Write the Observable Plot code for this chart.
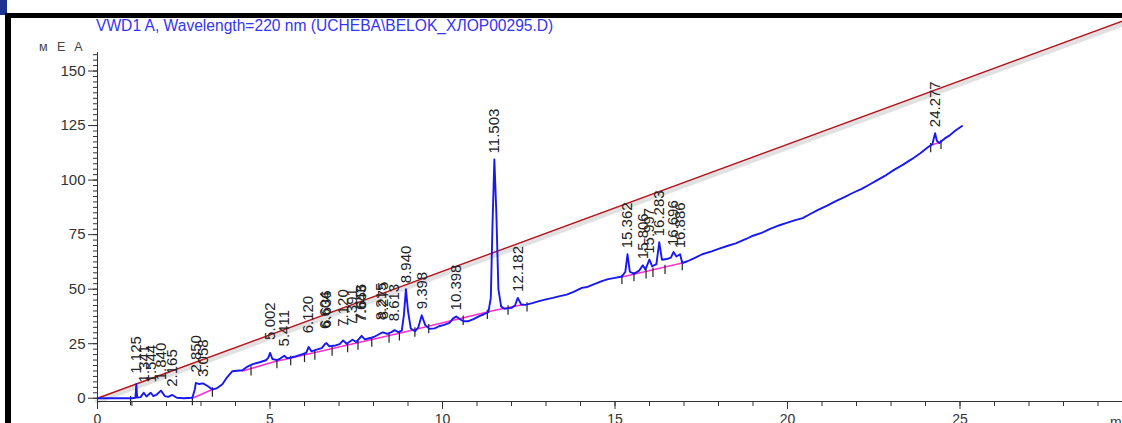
<!DOCTYPE html>
<html><head><meta charset="utf-8">
<script src="https://cdn.jsdelivr.net/npm/d3@7"></script>
<script src="https://cdn.jsdelivr.net/npm/@observablehq/plot@0.6"></script>
<style>
body{margin:0;background:#fff;}
#wrap{position:relative;width:1122px;height:423px;overflow:hidden;font-family:"Liberation Sans",Arial,sans-serif;background:#fff;}
#chart{position:absolute;left:0;top:0;}
.bar{position:absolute;}
#title{position:absolute;left:96px;top:17px;font-size:15.6px;color:#3535f5;white-space:nowrap;line-height:18px;}
#yunit{position:absolute;left:39px;top:40px;font-size:12.5px;color:#444;letter-spacing:3px;white-space:nowrap;}
</style></head>
<body><div id="wrap">
<div id="chart"></div>
<div class="bar" style="left:0;top:0;width:7px;height:15px;background:#1d3391"></div>
<div class="bar" style="left:7px;top:13px;width:1115px;height:5px;background:#000"></div>
<div class="bar" style="left:5px;top:13px;width:6px;height:410px;background:#000"></div>
<div id="title"></div>
<div id="yunit"></div>
</div>
<script>
const titleText = "VWD1 A, Wavelength=220 nm (UCHEBA\\BELOK_ХЛОР00295.D)";
const yUnit = "м E A";
const xUnit = "min";

const traceTime = [0,0.5,1.0,1.10,1.125,1.15,1.25,1.341,1.42,1.544,1.62,1.70,1.840,1.95,2.05,2.165,2.30,2.50,2.75,2.82,2.850,2.95,3.058,3.20,3.33,3.45,3.62,3.75,3.91,4.05,4.2,4.35,4.5,4.7,4.88,4.95,5.002,5.07,5.2,5.3,5.411,5.5,5.7,5.9,6.05,6.120,6.2,6.35,6.5,6.604,6.636,6.72,6.9,7.02,7.120,7.22,7.391,7.5,7.643,7.656,7.75,7.9,8.05,8.215,8.275,8.4,8.52,8.613,8.72,8.82,8.88,8.940,9.0,9.08,9.2,9.3,9.398,9.5,9.62,9.77,9.9,10.05,10.2,10.3,10.398,10.5,10.6,10.75,10.9,11.05,11.2,11.33,11.40,11.45,11.503,11.56,11.62,11.7,11.8,12.0,12.1,12.182,12.28,12.4,12.6,12.8,13.0,13.2,13.4,13.6,13.8,14.04,14.2,14.4,14.62,14.8,15.0,15.2,15.30,15.362,15.43,15.55,15.7,15.806,15.88,15.997,16.08,16.2,16.283,16.36,16.5,16.62,16.696,16.78,16.886,16.95,17.1,17.3,17.53,17.8,18.0,18.25,18.5,18.8,19.0,19.25,19.48,19.75,20.0,20.2,20.44,20.7,20.9,21.15,21.4,21.65,21.9,22.15,22.38,22.6,22.85,23.1,23.34,23.6,23.85,24.05,24.2,24.277,24.33,24.40,24.55,24.7,24.85,25.06];
const traceSignal = [0,0,0,0.2,6.5,0.3,0.5,2.5,0.8,2.5,1.0,1.5,3.5,1.0,0.6,1.5,0.2,0,0.2,4,7,6.5,6.8,5.5,4.0,4.5,6.4,9.5,12.4,12.6,12.8,14.5,15.6,16.5,17.4,18.5,20.8,18,17.5,18.2,19.5,18.3,19,20,20.8,23.5,21.5,22.3,23,25,25.3,23.8,24.2,24.8,26.5,25,26.8,25.8,28.3,28.6,27,27.6,28.4,29.8,30.2,29.5,30.3,31.2,30.3,31,38,50,40,32,30.7,32.5,38,33.5,31.8,32,33,33.6,34.5,36.5,37.5,36.3,35.3,35.3,36.3,37.5,38.5,39.5,46,80,109.5,85,50,42,41,41.4,42.5,46,43,42.8,43.6,44.5,45.3,46,46.8,47.5,48.8,50.6,51,52.3,53.7,54.6,55.2,55.8,58,66,58,57,58.5,61,59,63.5,60.5,61.5,71.5,63.5,63.8,64.5,67,65,66,62,62.8,64.2,66,67.3,68.5,69.8,71,73,74.5,75.8,77.5,79.2,80.5,81.5,82.6,84.8,86.5,88.3,90.4,92.2,94.2,96,98,100,102.2,104.8,107,109.6,112.3,114.8,116.5,121.5,118,117,119,120.5,122.5,124.8];

const peakTimes = [1.125,1.341,1.544,1.840,2.165,2.850,3.058,5.002,5.411,6.120,6.604,6.636,7.120,7.391,7.643,7.656,8.215,8.275,8.613,8.940,9.398,10.398,11.503,12.182,15.362,15.806,15.997,16.283,16.696,16.886,24.277];
const peakHeights = [8.5,4.5,4.5,5.5,2.5,9,7,24,21,27,29,29.5,30,30.5,32,32.5,33,33.5,32.5,50,38,37.5,109.5,46,66,61,63.5,71.5,67,66,121.5];

const baselineSegment = ["a","a","b","b","b","b","b","c","c","d","d"];
const baselineTime = [2.75,3.33,4.2,5.1,8.81,11.42,12.35,15.2,16.95,24.15,24.45];
const baselineSignal = [0,4,12.5,16.6,30,40,43,55.6,62,116,117.5];

const markerTimes = [0.96,2.75,3.33,4.45,5.2,5.6,6.0,6.3,6.8,7.25,7.55,7.95,8.45,8.75,9.2,9.6,10.6,11.3,11.9,12.45,15.2,15.55,15.9,16.1,16.45,16.95,24.15,24.45];

const referenceTime = [0, 29.71];
const referenceSignal = [0, 172.9];

const yMajorTicks = [0,25,50,75,100,125,150];
const xMajorTicks = [0,5,10,15,20,25];

document.getElementById("title").textContent = titleText;
document.getElementById("yunit").textContent = yUnit;

const trace = traceTime.map((t,i)=>({t, v: traceSignal[i]}));
const interp = t => {
  let i = d3.bisectRight(traceTime, t) - 1;
  i = Math.max(0, Math.min(traceTime.length-2, i));
  const t0 = traceTime[i], t1 = traceTime[i+1];
  const f = (t - t0)/(t1 - t0);
  return traceSignal[i] + f*(traceSignal[i+1]-traceSignal[i]);
};
const baselineInterp = t => {
  for (let i=0;i<baselineTime.length-1;i++){
    if (baselineSegment[i]===baselineSegment[i+1] && t>=baselineTime[i] && t<=baselineTime[i+1]) {
      const f=(t-baselineTime[i])/(baselineTime[i+1]-baselineTime[i]);
      return baselineSignal[i]+f*(baselineSignal[i+1]-baselineSignal[i]);
    }
  }
  return interp(t);
};
const peaks = peakTimes.map((t,i)=>({t, v: peakHeights[i], label: t.toFixed(3)}));
const baseline = baselineTime.map((t,i)=>({t, v: baselineSignal[i], seg: baselineSegment[i]}));
const markers = markerTimes.map(t=>({t, v: baselineInterp(t)}));
const reference = referenceTime.map((t,i)=>({t, v: referenceSignal[i]}));

const xMax = referenceTime[1];
const chart = Plot.plot({
  width: 1122, height: 423,
  marginLeft: 97, marginRight: 0, marginTop: 52, marginBottom: 22,
  x: {domain: [0, xMax]},
  y: {domain: [-1.5, 158.5]},
  style: {fontFamily: "Liberation Sans, Arial, sans-serif", color: "#333", background: "transparent", overflow: "visible"},
  marks: [
    Plot.line(reference, {x: "t", y: "v", stroke: "#888", strokeOpacity: 0.25, strokeWidth: 5, dy: 3}),
    Plot.line(reference, {x: "t", y: "v", stroke: "#b3131c", strokeWidth: 1.4}),
    Plot.line(baseline, {x: "t", y: "v", z: "seg", stroke: "#ff2fd0", strokeWidth: 1.6}),
    Plot.ruleX(markers, {x: "t", y1: d => d.v - 3.5, y2: d => d.v + 0.8, stroke: "#222", strokeWidth: 1.2}),
    Plot.line(trace, {x: "t", y: "v", stroke: "#1818f2", strokeWidth: 1.9}),
    Plot.text(peaks, {x: "t", y: "v", text: "label", rotate: -90, textAnchor: "start", dy: -6, fontSize: 15, fill: "#222"}),
    Plot.ruleX([0], {y1: -1.5, y2: 158.5, stroke: "#333"}),
    Plot.ruleY([-1.5], {x1: 0, x2: xMax, stroke: "#333"}),
    Plot.axisY({ticks: yMajorTicks, tickSize: 9, tickPadding: 3, fontSize: 15, label: null, stroke: "#333"}),
    Plot.axisY({ticks: d3.range(0, 158, 2.5), tickSize: 4, tickFormat: () => "", label: null, stroke: "#333"}),
    Plot.axisX({ticks: xMajorTicks, tickSize: 8, tickPadding: 5, fontSize: 14, label: null, stroke: "#333"}),
    Plot.axisX({ticks: d3.range(0, 30, 1), tickSize: 5, tickFormat: () => "", label: null, stroke: "#333"}),
    Plot.text([xUnit], {x: 29.35, y: -1.5, dy: 21, textAnchor: "start", fontSize: 14, fill: "#333"})
  ]
});
document.getElementById("chart").appendChild(chart);
</script>
</body></html>
